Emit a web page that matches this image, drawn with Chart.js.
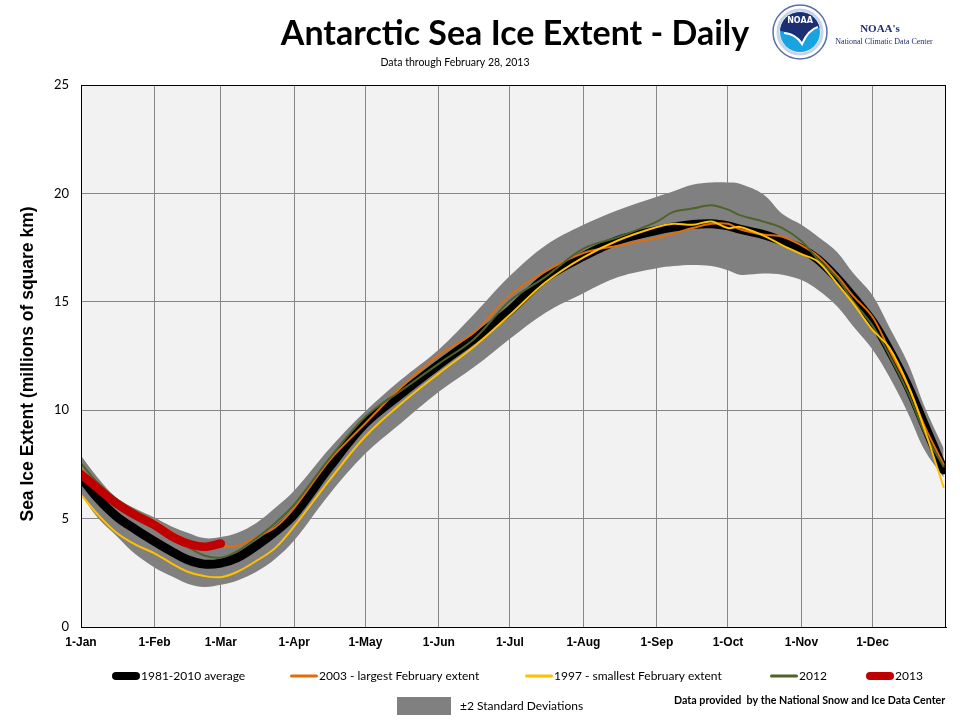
<!DOCTYPE html>
<html>
<head>
<meta charset="utf-8">
<script src="https://cdn.jsdelivr.net/npm/chart.js@4.4.0/dist/chart.umd.min.js"></script>
<style>
  body { margin: 0; background: #ffffff; }
  #chart { display: block; }
</style>
</head>
<body>
<canvas id="chart" width="960" height="720"></canvas>
<script>
// day of year for each sampled value (0 = 1-Jan)
var days = [0, 7, 15, 23, 31, 38, 45, 52, 59, 66, 74, 82, 90, 105, 120, 135, 151, 166, 181, 196,
            212, 227, 243, 250, 258, 266, 273, 278, 288, 296, 304, 311, 319, 326, 334, 341, 349, 356, 364];

// 1981-2010 average
var avgExtent = [6.9, 5.95, 5.1, 4.5, 3.95, 3.5, 3.1, 2.9, 2.95, 3.2, 3.75, 4.4, 5.2, 7.4, 9.4, 10.75, 12.1, 13.3, 14.6, 16.1,
                 17.1, 17.85, 18.3, 18.45, 18.57, 18.6, 18.5, 18.35, 18.1, 17.8, 17.45, 16.95, 16.1, 15.2, 14.1, 12.8, 11.1, 9.3, 7.25];

// +2 / -2 standard deviations
var sdUpper = [7.9, 6.9, 5.95, 5.45, 5.05, 4.65, 4.35, 4.1, 4.15, 4.35, 4.8, 5.5, 6.3, 8.25, 9.95, 11.4, 12.8, 14.45, 16.2, 17.6,
               18.55, 19.25, 19.85, 20.1, 20.4, 20.5, 20.5, 20.45, 19.95, 19.05, 18.55, 18.0, 17.3, 16.3, 15.3, 13.85, 12.15, 10.15, 8.25];
var sdLower = [6.1, 5.05, 4.2, 3.35, 2.75, 2.35, 2.0, 1.85, 1.95, 2.15, 2.55, 3.15, 4.0, 6.15, 8.0, 9.4, 10.85, 12.0, 13.3, 14.5,
               15.4, 16.15, 16.55, 16.65, 16.7, 16.65, 16.45, 16.25, 16.3, 16.25, 16.0, 15.55, 14.8, 13.85, 12.8, 11.55, 9.85, 8.15, 6.9];

// 2003 - largest February extent
var ext2003 = [7.3, 6.55, 5.9, 5.35, 4.9, 4.4, 4.0, 3.8, 3.7, 3.75, 4.15, 4.6, 5.5, 7.7, 9.4, 11.05, 12.55, 13.6, 15.3, 16.4,
               17.25, 17.6, 17.95, 18.15, 18.4, 18.6, 18.6, 18.35, 18.1, 18.0, 17.6, 17.1, 16.2, 15.25, 14.3, 12.8, 11.1, 9.25, 7.5];

// 1997 - smallest February extent
var ext1997 = [6.1, 5.2, 4.35, 3.8, 3.4, 2.95, 2.55, 2.35, 2.3, 2.55, 3.05, 3.65, 4.65, 6.8, 8.8, 10.3, 11.7, 12.95, 14.4, 15.9,
               17.05, 17.85, 18.45, 18.6, 18.55, 18.7, 18.4, 18.45, 18.05, 17.6, 17.2, 16.85, 15.85, 14.9, 13.7, 12.9, 11.15, 9.1, 6.45];

// 2012
var ext2012 = [7.55, 6.65, 5.9, 5.35, 4.85, 4.2, 3.7, 3.3, 3.2, 3.5, 4.1, 4.8, 5.65, 7.8, 9.7, 10.9, 12.15, 13.3, 15.05, 16.15,
               17.45, 18.0, 18.7, 19.15, 19.3, 19.45, 19.25, 19.0, 18.7, 18.4, 17.8, 16.95, 16.1, 15.0, 13.9, 12.55, 10.8, 8.95, 7.4];

// 2013 (data through February 28)
var ext2013 = [7.05, 6.4, 5.7, 5.15, 4.7, 4.2, 3.85, 3.7, 3.85];

var monthStarts = [0, 31, 59, 90, 120, 151, 181, 212, 243, 273, 304, 334];
var monthLabels = ["1-Jan", "1-Feb", "1-Mar", "1-Apr", "1-May", "1-Jun", "1-Jul", "1-Aug", "1-Sep", "1-Oct", "1-Nov", "1-Dec"];
var yTicks = [0, 5, 10, 15, 20, 25];

function toPoints(values) {
    var pts = [];
    for (var i = 0; i < values.length; i++) {
        pts.push({ x: days[i], y: values[i] });
    }
    return pts;
}

function lineSet(label, values, color, width) {
    return {
        label: label,
        data: toPoints(values),
        borderColor: color,
        backgroundColor: color,
        borderWidth: width,
        pointRadius: 0,
        tension: 0.35,
        fill: false,
        borderCapStyle: "round",
        borderJoinStyle: "round"
    };
}

// background of plot area + black frame
var plotFrame = {
    id: "plotFrame",
    beforeDraw: function(chart) {
        var a = chart.chartArea, ctx = chart.ctx;
        ctx.save();
        ctx.fillStyle = "#f2f2f2";
        ctx.fillRect(a.left, a.top, a.right - a.left, a.bottom - a.top);
        ctx.restore();
    },
    afterDraw: function(chart) {
        var a = chart.chartArea, ctx = chart.ctx;
        ctx.save();
        ctx.strokeStyle = "#000000";
        ctx.lineWidth = 1;
        ctx.strokeRect(a.left + 0.5, a.top + 0.5, a.right - a.left - 1, a.bottom - a.top);
        ctx.restore();
    }
};

// title, subtitle, axis title, logo, legend and footer
var decorations = {
    id: "decorations",
    afterDraw: function(chart) {
        var ctx = chart.ctx;
        ctx.save();
        ctx.fillStyle = "#000000";
        ctx.textAlign = "center";
        ctx.textBaseline = "alphabetic";
        ctx.font = "bold 34px Lato";
        ctx.fillText("Antarctic Sea Ice Extent - Daily", 515, 45);
        ctx.font = "10.5px Lato";
        ctx.fillText("Data through February 28, 2013", 455, 66);

        // y axis title
        ctx.save();
        ctx.translate(28, 364);
        ctx.rotate(-Math.PI / 2);
        ctx.textBaseline = "middle";
        ctx.font = "bold 17.5px 'Liberation Sans'";
        ctx.fillText("Sea Ice Extent (millions of square km)", 0, 0);
        ctx.restore();

        // NOAA logo
        var cx = 800, cy = 32, r = 27;
        ctx.beginPath();
        ctx.arc(cx, cy, r, 0, Math.PI * 2);
        ctx.fillStyle = "#ffffff";
        ctx.fill();
        ctx.lineWidth = 1.5;
        ctx.strokeStyle = "#5a6fa8";
        ctx.stroke();
        ctx.beginPath();
        ctx.arc(cx, cy, r - 5, 0, Math.PI * 2);
        ctx.lineWidth = 3;
        ctx.strokeStyle = "#c9d2e6";
        ctx.stroke();
        ctx.save();
        ctx.beginPath();
        ctx.arc(cx, cy, r - 7, 0, Math.PI * 2);
        ctx.clip();
        ctx.fillStyle = "#18a4e0";
        ctx.fillRect(cx - r, cy - r, 2 * r, 2 * r);
        ctx.beginPath();
        ctx.moveTo(cx - r, cy - r);
        ctx.lineTo(cx + r, cy - r);
        ctx.lineTo(cx + r, cy - 6);
        ctx.quadraticCurveTo(cx + 10, cy - 4, cx + 2, cy + 10);
        ctx.quadraticCurveTo(cx - 4, cy, cx - r, cy - 2);
        ctx.closePath();
        ctx.fillStyle = "#1d2f73";
        ctx.fill();
        ctx.beginPath();
        ctx.moveTo(cx - 16, cy + 1);
        ctx.quadraticCurveTo(cx - 4, cy + 2, cx + 2, cy + 12);
        ctx.quadraticCurveTo(cx + 8, cy - 2, cx + 18, cy - 5);
        ctx.lineWidth = 2;
        ctx.strokeStyle = "#ffffff";
        ctx.stroke();
        ctx.restore();
        ctx.fillStyle = "#ffffff";
        ctx.font = "bold 8px 'DejaVu Sans'";
        ctx.fillText("NOAA", cx, cy - 9);

        ctx.fillStyle = "#1d2f73";
        ctx.font = "bold 11px 'Liberation Serif'";
        ctx.fillText("NOAA's", 880, 32);
        ctx.font = "8px 'Liberation Serif'";
        ctx.fillText("National Climatic Data Center", 884, 44);

        // legend row
        var items = [
            { x: 112, text: "1981-2010 average", color: "#000000", w: 8 },
            { x: 290, text: "2003 - largest February extent", color: "#e36c0a", w: 3 },
            { x: 525, text: "1997 - smallest February extent", color: "#ffc000", w: 3 },
            { x: 770, text: "2012", color: "#4f6228", w: 3 },
            { x: 866, text: "2013", color: "#c00000", w: 8 }
        ];
        ctx.textAlign = "left";
        ctx.textBaseline = "middle";
        ctx.font = "12px Lato";
        items.forEach(function(it) {
            ctx.beginPath();
            ctx.moveTo(it.x + it.w / 2, 676);
            ctx.lineTo(it.x + 28 - it.w / 2, 676);
            ctx.lineCap = "round";
            ctx.lineWidth = it.w;
            ctx.strokeStyle = it.color;
            ctx.stroke();
            ctx.fillStyle = "#000000";
            ctx.fillText(it.text, it.x + 29, 676);
        });

        ctx.fillStyle = "#808080";
        ctx.fillRect(397, 697, 54, 18);
        ctx.fillStyle = "#000000";
        ctx.font = "12px Lato";
        ctx.fillText("\u00b12 Standard Deviations", 460, 706);
        ctx.font = "bold 10.7px Lato";
        ctx.fillText("Data provided  by the National Snow and Ice Data Center", 674, 701);
        ctx.restore();
    }
};

function createChart() {
    var ctx = document.getElementById("chart").getContext("2d");

    var datasets = [
        lineSet("2013", ext2013, "#c00000", 8.5),
        lineSet("1997 - smallest February extent", ext1997, "#ffc000", 2),
        lineSet("2012", ext2012, "#4f6228", 2),
        lineSet("2003 - largest February extent", ext2003, "#e36c0a", 2),
        lineSet("1981-2010 average", avgExtent, "#000000", 9),
        {
            label: "+2 SD",
            data: toPoints(sdUpper),
            borderWidth: 0,
            pointRadius: 0,
            tension: 0.35,
            backgroundColor: "#808080",
            fill: "+1"
        },
        {
            label: "-2 SD",
            data: toPoints(sdLower),
            borderWidth: 0,
            pointRadius: 0,
            tension: 0.35,
            backgroundColor: "#808080",
            fill: false
        }
    ];

    new Chart(ctx, {
        type: "line",
        data: { datasets: datasets },
        options: {
            responsive: false,
            animation: false,
            layout: { padding: { left: 0, right: 14, top: 85, bottom: 63 } },
            plugins: {
                legend: { display: false },
                title: { display: false },
                tooltip: { enabled: false },
                filler: { propagate: false }
            },
            scales: {
                x: {
                    type: "linear",
                    min: 0,
                    max: 365,
                    afterBuildTicks: function(scale) {
                        scale.ticks = monthStarts.map(function(v) { return { value: v }; });
                    },
                    afterFit: function(scale) { scale.height = 30; },
                    ticks: {
                        autoSkip: false,
                        maxRotation: 0,
                        padding: 8,
                        color: "#000000",
                        font: { family: "'Liberation Sans'", size: 12, weight: "bold" },
                        callback: function(value) {
                            var i = monthStarts.indexOf(value);
                            return i >= 0 ? monthLabels[i] : "";
                        }
                    },
                    grid: { color: "#868686", lineWidth: 1, drawTicks: false },
                    border: { color: "#000000", width: 1 }
                },
                y: {
                    min: 0,
                    max: 25,
                    afterBuildTicks: function(scale) {
                        scale.ticks = yTicks.map(function(v) { return { value: v }; });
                    },
                    afterFit: function(scale) { scale.width = 81; },
                    ticks: {
                        padding: 12,
                        color: "#000000",
                        font: { family: "Lato", size: 13 }
                    },
                    grid: { color: "#868686", lineWidth: 1, drawTicks: false },
                    border: { color: "#000000", width: 1 }
                }
            }
        },
        plugins: [plotFrame, decorations]
    });
}

createChart();
</script>
</body>
</html>
